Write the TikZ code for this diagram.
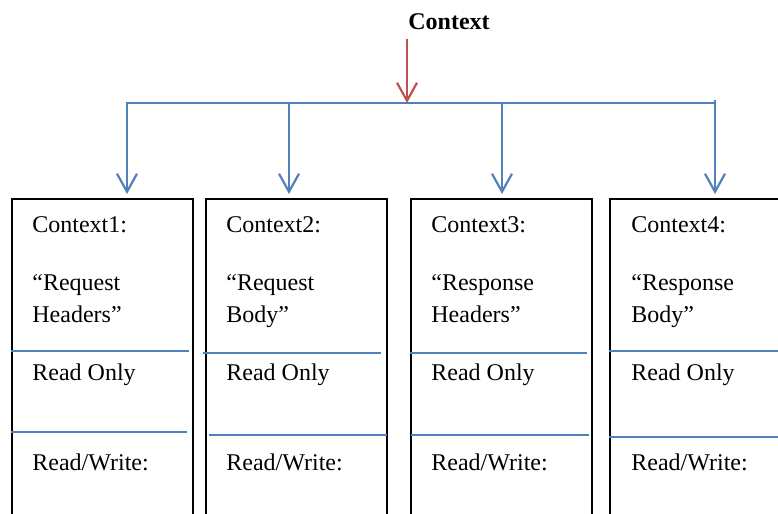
\documentclass[tikz,border=0pt]{standalone}
\usepackage{fontspec}
\setmainfont{Liberation Serif}
\usepackage{xcolor}
\usetikzlibrary{arrows.meta, positioning, calc}

\definecolor{busblue}{HTML}{4F81BD}
\definecolor{srcred}{HTML}{C0504D}

\begin{document}
\begin{tikzpicture}[x=0.5pt, y=-0.5pt, font=\fontsize{12}{16}\selectfont,
  ctxbox/.style={draw, line width=1pt, anchor=north west, inner sep=0pt,
                 minimum width=90.5pt, minimum height=170pt},
  lbl/.style={anchor=base west, inner sep=0pt, align=left},
  bus/.style={draw=busblue, line width=1.1pt},
  barb/.style={-{Straight Barb[length=9pt, width=10pt]}}]
  \path[use as bounding box] (0,0) rectangle (778,514);
  \clip (0,0) rectangle (778,514);

  % source and bus
  \node[font=\fontsize{12}{16}\selectfont\bfseries] (ctx) at (449,22) {Context};
  \coordinate (src) at (407,39);
  \coordinate (hub) at (407,103);
  \draw[srcred, line width=1.1pt, barb] (src) -- (hub);
  \draw[bus] (126,103) coordinate (busL) -- (715,103) coordinate (busR) -- ++(0,-3);

  % the four contexts
  \node[ctxbox] (b1) at (11,198) {};
  \node[ctxbox] (b2) at (205,198) {};
  \node[ctxbox] (b3) at (410,198) {};
  \node[ctxbox] (b4) at (609,198) {};

  \coordinate (d1) at (127,103);
  \coordinate (d2) at (289,103);
  \coordinate (d3) at (502,103);
  \coordinate (d4) at (715,103);
  \foreach \i in {1,...,4}
    \draw[bus, barb, shorten >=2pt] (d\i) -- (d\i |- b\i.north);

  % texts (base of a two-line node is its last line)
  \node[lbl] (t1) at ($(b1.north west)+(21,34)$) {Context1:};
  \node[lbl] (n1) at ($(b1.north west)+(21,124)$) {“Request\\Headers”};
  \node[lbl] (r1) at ($(b1.north west)+(21,182)$) {Read Only};
  \node[lbl] (w1) at ($(b1.north west)+(21,272)$) {Read/Write:};

  \node[lbl] (t2) at ($(b2.north west)+(21,34)$) {Context2:};
  \node[lbl] (n2) at ($(b2.north west)+(21,124)$) {“Request\\Body”};
  \node[lbl] (r2) at ($(b2.north west)+(21,182)$) {Read Only};
  \node[lbl] (w2) at ($(b2.north west)+(21,272)$) {Read/Write:};

  \node[lbl] (t3) at ($(b3.north west)+(21,34)$) {Context3:};
  \node[lbl] (n3) at ($(b3.north west)+(21,124)$) {“Response\\Headers”};
  \node[lbl] (r3) at ($(b3.north west)+(21,182)$) {Read Only};
  \node[lbl] (w3) at ($(b3.north west)+(21,272)$) {Read/Write:};

  \node[lbl] (t4) at ($(b4.north west)+(22,34)$) {Context4:};
  \node[lbl] (n4) at ($(b4.north west)+(22,124)$) {“Response\\Body”};
  \node[lbl] (r4) at ($(b4.north west)+(22,182)$) {Read Only};
  \node[lbl] (w4) at ($(b4.north west)+(22,272)$) {Read/Write:};

  % dividers
  \draw[bus] ($(b1.north west)+(0,153)$) -- ++(178,0);
  \draw[bus] ($(b1.north west)+(0,234)$) -- ++(176,0);
  \draw[bus] ($(b2.north west)+(-2,155)$) -- ++(178,0);
  \draw[bus] ($(b2.north west)+(4,237)$) -- ++(178,0);
  \draw[bus] ($(b3.north west)+(0,155)$) -- ++(177,0);
  \draw[bus] ($(b3.north west)+(1,237)$) -- ++(178,0);
  \draw[bus] ($(b4.north west)+(0,153)$) -- ++(181,0);
  \draw[bus] ($(b4.north west)+(0,239)$) -- ++(181,0);
\end{tikzpicture}
\end{document}
